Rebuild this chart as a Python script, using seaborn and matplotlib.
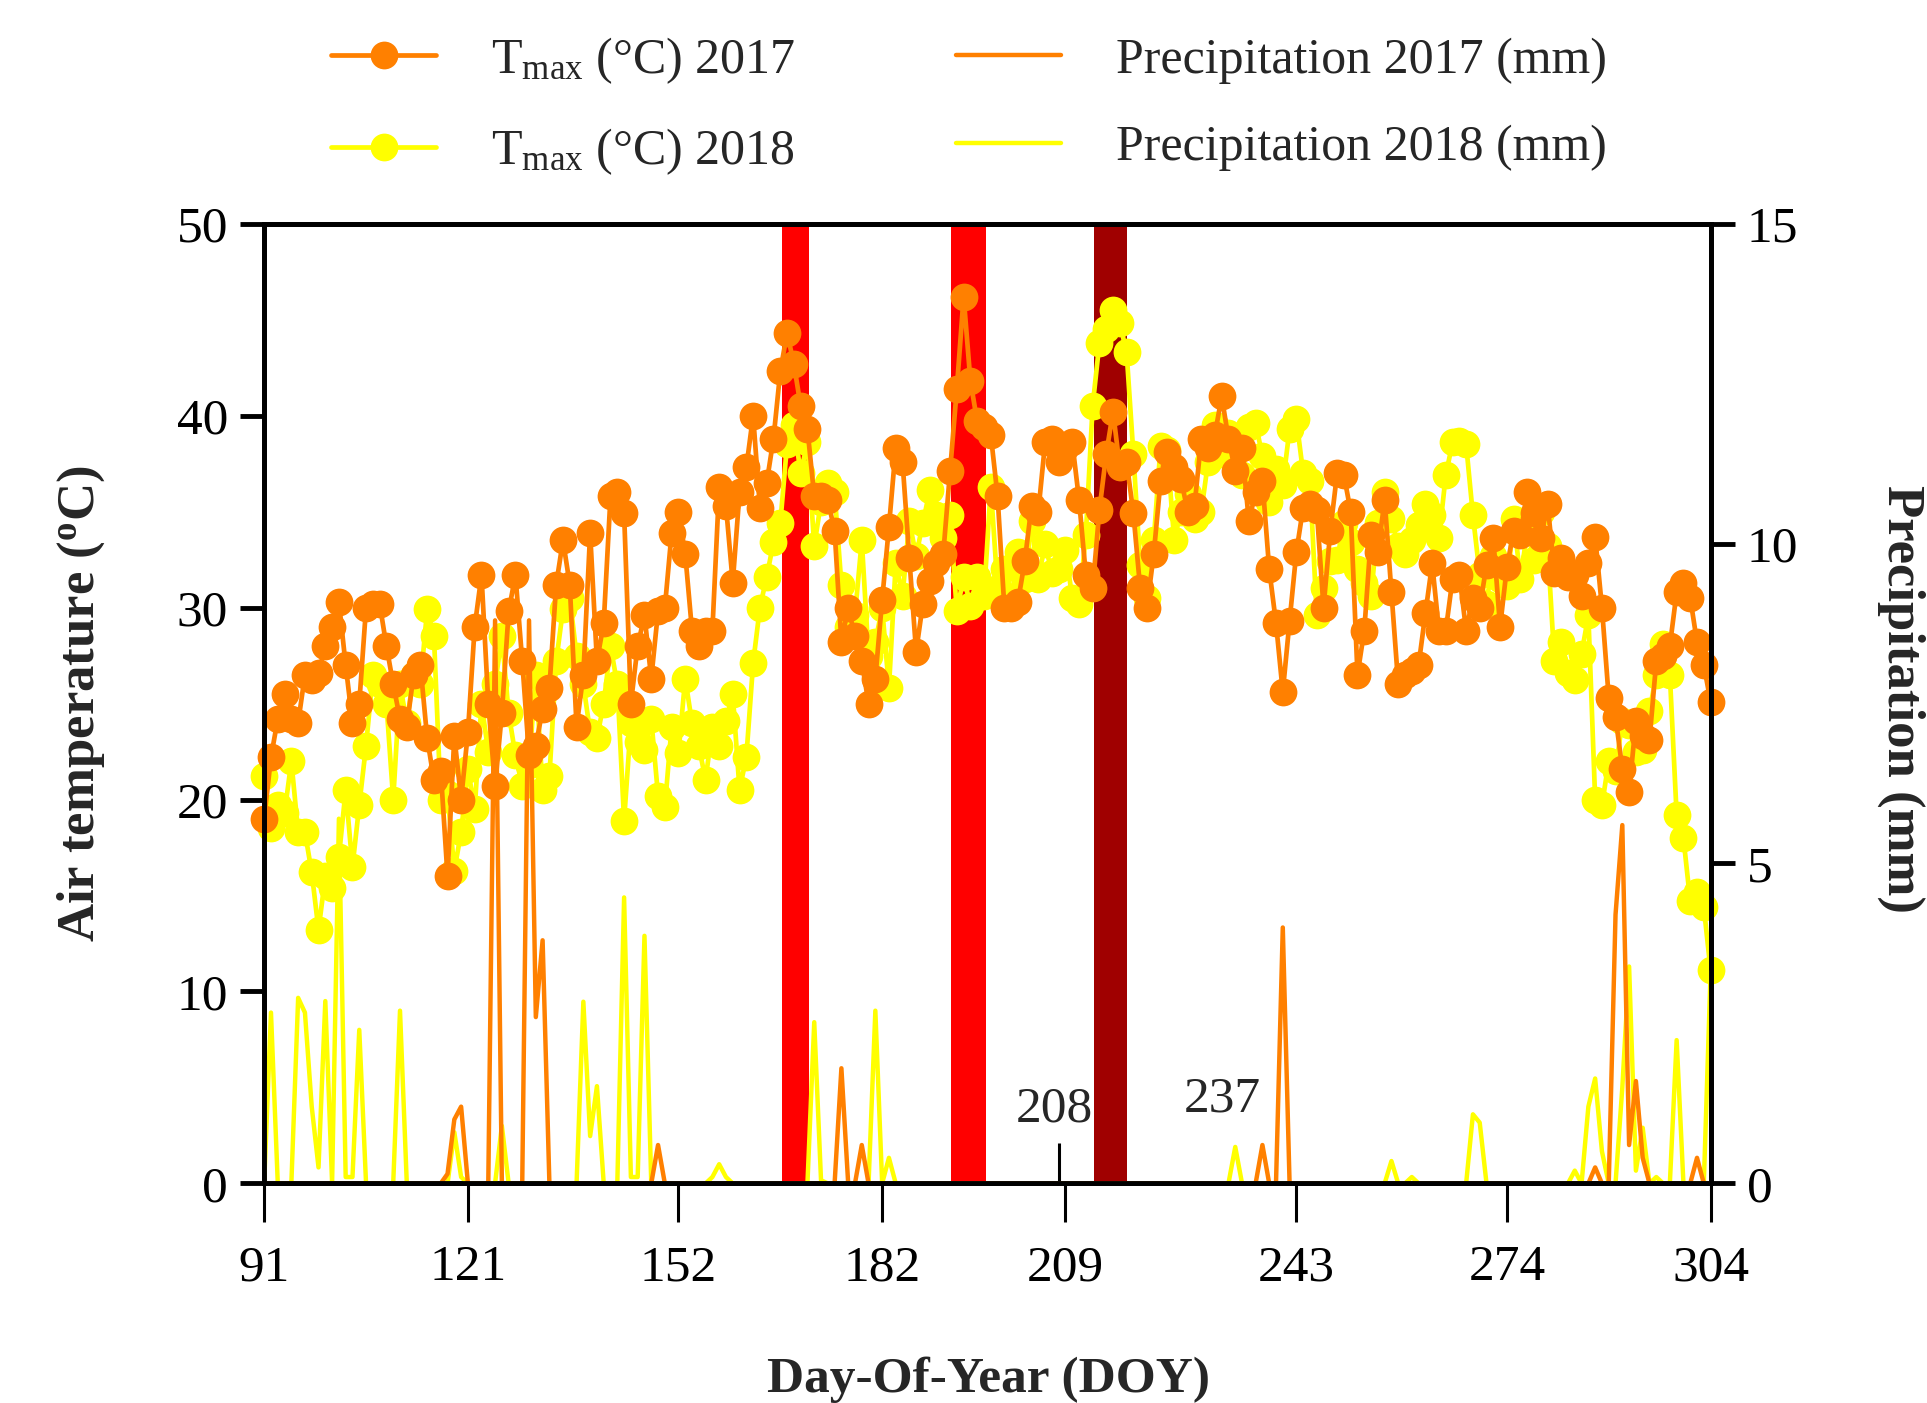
import matplotlib
matplotlib.use('Agg')
import matplotlib.pyplot as plt
import numpy as np
import pandas as pd
import seaborn as sns

sns.set_theme(style='ticks')
plt.rcParams['font.family'] = ['Liberation Serif', 'DejaVu Serif']
plt.rcParams['mathtext.fontset'] = 'custom'
plt.rcParams['mathtext.rm'] = 'Liberation Serif'
plt.rcParams['mathtext.it'] = 'Liberation Serif:italic'
plt.rcParams['mathtext.bf'] = 'Liberation Serif:bold'

ORANGE = '#FF8000'
YELLOW = '#FFFF00'

# daily maximum air temperature, DOY 91 ... 304
tmax_2017 = [
    19.0, 22.2, 24.2, 25.5, 24.2, 24.0, 26.5, 26.2, 26.6, 28.0,
    29.0, 30.3, 27.0, 24.0, 25.0, 30.0, 30.2, 30.2, 28.0, 26.0,
    24.2, 23.8, 26.5, 27.0, 23.2, 21.0, 21.5, 16.0, 23.3, 20.0,
    23.5, 29.0, 31.7, 25.0, 20.7, 24.5, 29.8, 31.7, 27.2, 22.3,
    22.8, 24.7, 25.8, 31.2, 33.5, 31.2, 23.8, 26.5, 33.9, 27.2,
    29.2, 35.8, 36.0, 34.9, 25.0, 28.0, 29.6, 26.3, 29.8, 30.0,
    33.9, 35.0, 32.8, 28.8, 28.0, 28.8, 28.8, 36.3, 35.3, 31.3,
    36.0, 37.3, 40.0, 35.2, 36.5, 38.8, 42.3, 44.3, 42.7, 40.5,
    39.3, 35.8, 35.8, 35.6, 34.0, 28.2, 30.0, 28.5, 27.2, 25.0,
    26.3, 30.4, 34.2, 38.3, 37.6, 32.6, 27.7, 30.2, 31.4, 32.3,
    32.8, 37.1, 41.4, 46.2, 41.8, 39.7, 39.4, 39.0, 35.8, 30.0,
    30.0, 30.3, 32.4, 35.3, 35.0, 38.6, 38.8, 37.6, 38.3, 38.6,
    35.6, 31.7, 31.0, 35.1, 38.0, 40.2, 37.3, 37.6, 34.9, 31.0,
    30.0, 32.8, 36.6, 38.1, 37.3, 36.7, 35.0, 35.3, 38.8, 38.3,
    39.0, 41.0, 38.8, 37.1, 38.3, 34.5, 36.0, 36.6, 32.0, 29.2,
    25.6, 29.3, 32.9, 35.2, 35.4, 35.1, 30.0, 34.0, 37.0, 36.9,
    35.0, 26.5, 28.8, 33.8, 32.9, 35.6, 30.8, 26.0, 26.5, 26.7,
    27.0, 29.7, 32.3, 28.8, 28.8, 31.5, 31.7, 28.8, 30.5, 30.0,
    32.2, 33.6, 29.0, 32.1, 34.0, 33.8, 36.0, 34.9, 33.6, 35.4,
    31.8, 32.6, 31.6, 31.7, 30.6, 32.3, 33.7, 30.0, 25.3, 24.3,
    21.6, 20.4, 24.1, 23.3, 23.1, 27.2, 27.5, 28.0, 30.8, 31.3,
    30.5, 28.2, 27.0, 25.1,
]
tmax_2018 = [
    21.2, 18.5, 19.7, 19.3, 22.0, 18.3, 18.3, 16.2, 13.2, 16.0,
    15.4, 17.0, 20.5, 16.5, 19.7, 22.8, 26.5, 26.0, 25.0, 20.0,
    26.0, 24.0, 26.5, 26.0, 29.9, 28.5, 20.0, 20.3, 16.3, 18.3,
    21.6, 19.5, 25.0, 22.5, 26.0, 28.5, 24.5, 22.3, 20.7, 21.8,
    26.5, 20.5, 21.2, 27.2, 29.9, 30.5, 27.5, 26.0, 23.5, 23.2,
    25.0, 28.0, 26.0, 18.9, 24.0, 23.0, 22.6, 24.2, 20.2, 19.6,
    23.8, 22.4, 26.3, 24.0, 22.8, 21.0, 23.8, 22.8, 24.1, 25.5,
    20.5, 22.2, 27.1, 30.0, 31.6, 33.4, 34.4, 38.5, 39.5, 37.0,
    38.6, 33.2, 35.5, 36.5, 36.0, 31.2, 29.0, 29.6, 33.5, 27.5,
    28.2, 30.0, 25.8, 32.3, 30.6, 34.5, 32.7, 34.4, 36.1, 34.8,
    33.6, 34.8, 29.8, 31.6, 30.1, 31.6, 30.6, 36.3, 31.0, 32.0,
    30.4, 32.9, 31.5, 34.5, 31.5, 33.3, 31.8, 32.0, 33.0, 30.5,
    30.2, 33.8, 40.5, 43.8, 44.5, 45.5, 44.8, 43.3, 38.0, 32.2,
    30.5, 33.5, 38.4, 38.2, 33.5, 35.0, 35.9, 34.6, 35.0, 37.6,
    39.5, 38.0, 39.1, 38.9, 36.9, 39.4, 39.6, 37.9, 35.5, 37.2,
    36.4, 39.3, 39.8, 37.0, 36.6, 29.6, 31.0, 32.4, 32.5, 34.4,
    33.4, 32.0, 31.3, 30.6, 34.4, 36.0, 34.6, 33.2, 32.8, 33.5,
    34.3, 35.4, 34.8, 33.6, 36.9, 38.6, 38.7, 38.5, 34.8, 31.7,
    30.2, 32.7, 31.5, 31.1, 34.6, 31.5, 34.0, 32.5, 35.0, 33.2,
    27.2, 28.2, 26.6, 26.2, 27.6, 29.6, 20.0, 19.7, 22.0, 21.5,
    24.1, 23.9, 22.5, 22.6, 24.6, 26.5, 28.1, 26.5, 19.2, 18.0,
    14.7, 15.2, 14.4, 11.1,
]

# rainy days only, every other day had 0 mm
rain_days_2017 = [118, 119, 120, 125, 130, 131, 132, 149, 176, 179,
                  238, 241, 287, 290, 291, 292, 293, 294, 302]
rain_mm_2017 = [0.15, 1.0, 1.2, 8.8, 8.8, 2.6, 3.8, 0.6, 1.8, 0.6,
                0.6, 4.0, 0.25, 4.2, 5.6, 0.6, 1.6, 0.4, 0.4]
rain_days_2018 = [92, 96, 97, 98, 99, 100, 102, 103, 104, 105, 111,
                  119, 120, 126, 138, 139, 140, 144, 145, 146, 147,
                  157, 158, 159, 172, 173, 181, 183, 234, 257, 260,
                  269, 270, 284, 286, 287, 288, 291, 292, 293, 294,
                  296, 299, 304]
rain_mm_2018 = [2.67, 2.9, 2.67, 1.2, 0.25, 2.85, 5.7, 0.1, 0.1, 2.4, 2.7,
                0.8, 0.1, 0.9, 2.84, 0.74, 1.52, 4.47, 0.1, 0.1, 3.87,
                0.1, 0.3, 0.1, 2.52, 0.05, 2.7, 0.4, 0.57, 0.35, 0.1,
                1.08, 0.95, 0.2, 1.2, 1.64, 0.5, 1.5, 3.39, 0.2, 0.87,
                0.1, 2.24, 3.3]

# shaded periods (DOY)
span_start = [167.2, 192.2, 213.2]
span_end = [171.2, 197.3, 218.1]
span_colors = ['#FF0000', '#FF0000', '#A00000']

xtick_days = [91, 121, 152, 182, 209, 243, 274, 304]
mark_labels = ['208', '237']

doy = np.arange(91, 305)
df = pd.DataFrame({
    'doy': doy,
    't2017': tmax_2017,
    't2018': tmax_2018,
    'p2017': pd.Series(rain_mm_2017, index=rain_days_2017).reindex(doy, fill_value=0).values,
    'p2018': pd.Series(rain_mm_2018, index=rain_days_2018).reindex(doy, fill_value=0).values,
})

fig = plt.figure(figsize=(19.27, 14.03), dpi=100)
ax = fig.add_axes([0.1371, 0.1565, 0.7506, 0.6841])

for s, e, c in zip(span_start, span_end, span_colors):
    ax.axvspan(s, e, color=c, lw=0, zorder=0)

sns.lineplot(data=df, x='doy', y='t2018', ax=ax, color=YELLOW, marker='o',
             markersize=20, markeredgewidth=0, clip_on=False)
h_t18 = ax.lines[-1]
sns.lineplot(data=df, x='doy', y='t2017', ax=ax, color=ORANGE, marker='o',
             markersize=20, markeredgewidth=0, clip_on=False)
h_t17 = ax.lines[-1]
for ln in (h_t18, h_t17):
    ln.set_linewidth(3.4)

# little marker at DOY 208 and the two day labels
ax.vlines(int(mark_labels[0]), 0, 2.1, color='black', lw=2.2, zorder=5)
ax.text(207.4, 3.85, mark_labels[0], ha='center', va='center', fontsize=37)
ax.text(232.1, 4.4, mark_labels[1], ha='center', va='center', fontsize=37)

ax2 = ax.twinx()
sns.lineplot(data=df, x='doy', y='p2018', ax=ax2, color=YELLOW)
h_p18 = ax2.lines[-1]
sns.lineplot(data=df, x='doy', y='p2017', ax=ax2, color=ORANGE)
h_p17 = ax2.lines[-1]
for ln in (h_p18, h_p17):
    ln.set_linewidth(3.2)

ax.set_xlim(91, 304)
ax.set_ylim(0, 50)
ax2.set_ylim(0, 15)
ax.set_xticks(xtick_days)
ax.set_yticks(np.arange(0, 51, 10))
ax2.set_yticks([0, 5, 10, 15])

for a in (ax, ax2):
    for sp in a.spines.values():
        sp.set_color('black')
        sp.set_linewidth(3.5)
ax.tick_params(axis='x', direction='out', length=28, width=2.2, pad=16,
               labelsize=37, colors='black')
ax.tick_params(axis='y', direction='out', length=17, width=3.5, pad=9,
               labelsize=37, colors='black')
ax2.tick_params(axis='y', direction='out', length=17, width=3.5, pad=9,
                labelsize=37, colors='black')

ax.set_xlabel('Day-Of-Year (DOY)', fontsize=37, fontweight='bold')
ax.xaxis.set_label_coords(0.501, -0.18)
ax.set_ylabel(r'Air temperature ($\mathbf{^{o}}$C)', fontsize=38, fontweight='bold')
ax.yaxis.set_label_coords(-0.109, 0.5)
ax2.set_ylabel('Precipitation (mm)', fontsize=38, fontweight='bold',
               rotation=270, va='bottom')
ax2.yaxis.set_label_coords(1.115, 0.505)

fig.legend([h_t17, h_t18, h_p17, h_p18],
           [r'T$_{\mathrm{max}}$ (°C) 2017', r'T$_{\mathrm{max}}$ (°C) 2018',
            'Precipitation 2017 (mm)', 'Precipitation 2018 (mm)'],
           ncol=2, loc='upper left', bbox_to_anchor=(0.172, 0.975),
           frameon=False, fontsize=36, handlelength=2.1, handletextpad=1.1,
           columnspacing=3.2, labelspacing=0.82, borderpad=0, borderaxespad=0)

fig.savefig('out.png', dpi=100)
